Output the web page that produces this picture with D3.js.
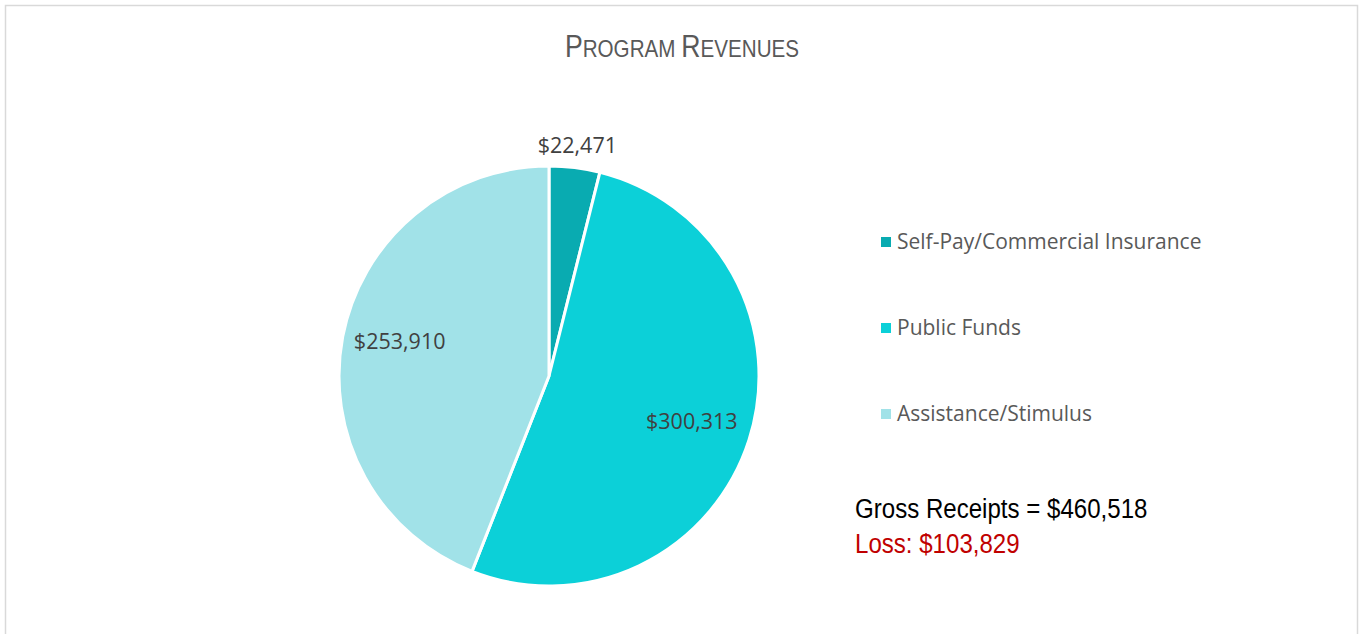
<!DOCTYPE html>
<html>
<head>
<meta charset="utf-8">
<script src="https://cdn.jsdelivr.net/npm/d3@7"></script>
<style>
  body { margin: 0; background: #fff; }
  svg { display: block; }
</style>
</head>
<body>
<div id="chart"></div>
<script>
// Data
let categories = ['Self-Pay/Commercial Insurance', 'Public Funds', 'Assistance/Stimulus'];
let values = [22471, 300313, 253910];
let colors = ['#09abb1', '#0cd0d8', '#a1e2e8'];
let grossReceipts = 460518;
let loss = 103829;

let dim = { width: 1359, height: 634 };
let center = { x: 549, y: 376 };
let radius = 210;
let narrow = 0.86; // no Arial Narrow installed, squeeze Liberation Sans instead

let svg = d3.select('#chart')
    .append('svg')
    .attr('width', dim.width)
    .attr('height', dim.height);

// chart frame
svg.append('rect')
    .attr('x', 5.5).attr('y', 5.5)
    .attr('width', 1352).attr('height', 640)
    .attr('fill', 'none')
    .attr('stroke', '#d9d9d9')
    .attr('stroke-width', 1.5);

// title in small caps
let title = svg.append('text')
    .attr('transform', `translate(682,57) scale(${narrow},1)`)
    .attr('text-anchor', 'middle')
    .attr('fill', '#595959')
    .style('font-family', '"Liberation Sans", Arial, sans-serif');
title.append('tspan').style('font-size', '31px').text('P');
title.append('tspan').style('font-size', '24px').text('ROGRAM ');
title.append('tspan').style('font-size', '31px').text('R');
title.append('tspan').style('font-size', '24px').text('EVENUES');

// pie
let pie = d3.pie().sort(null).value(d => d);
let arcs = pie(values);
let arc = d3.arc().innerRadius(0).outerRadius(radius);

let g = svg.append('g').attr('transform', `translate(${center.x},${center.y})`);

g.selectAll('path')
    .data(arcs)
    .join('path')
    .attr('d', arc)
    .attr('fill', (d, i) => colors[i])
    .attr('stroke', '#fff')
    .attr('stroke-width', 3)
    .attr('stroke-linejoin', 'round');

// data labels: small slice outside, others inside
let labelRadius = [232, 150, 152];
let labelShift = [0, 0, -6];
let fmt = d3.format('$,');
g.selectAll('text.lbl')
    .data(arcs)
    .join('text')
    .attr('class', 'lbl')
    .attr('transform', (d, i) => {
        let a = (d.startAngle + d.endAngle) / 2;
        let r = labelRadius[i];
        return `translate(${r * Math.sin(a)},${-r * Math.cos(a) + labelShift[i]})`;
    })
    .attr('text-anchor', 'middle')
    .attr('dy', '0.35em')
    .attr('fill', '#404040')
    .style('font-family', '"Open Sans", sans-serif')
    .style('font-size', '21.5px')
    .text(d => fmt(d.data));

// legend
let legend = svg.append('g').attr('transform', 'translate(881,242)');
let rows = legend.selectAll('g')
    .data(categories)
    .join('g')
    .attr('transform', (d, i) => `translate(0,${i * 86})`);
rows.append('rect')
    .attr('x', 0).attr('y', -5)
    .attr('width', 10).attr('height', 10)
    .attr('fill', (d, i) => colors[i]);
rows.append('text')
    .attr('x', 16).attr('dy', '0.35em')
    .attr('fill', '#595959')
    .style('font-family', '"Open Sans", sans-serif')
    .style('font-size', '21px')
    .text(d => d);

// summary text
svg.append('text')
    .attr('transform', `translate(855,518) scale(${narrow},1)`)
    .attr('fill', '#000')
    .style('font-family', '"Liberation Sans", Arial, sans-serif')
    .style('font-size', '28px')
    .text('Gross Receipts = ' + fmt(grossReceipts));
svg.append('text')
    .attr('transform', `translate(855,553) scale(${narrow},1)`)
    .attr('fill', '#c00000')
    .style('font-family', '"Liberation Sans", Arial, sans-serif')
    .style('font-size', '28px')
    .text('Loss: ' + fmt(loss));
</script>
</body>
</html>
